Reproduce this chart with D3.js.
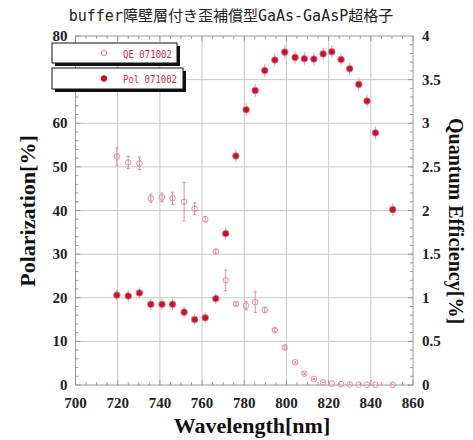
<!DOCTYPE html>
<html lang="en">
<head>
<meta charset="UTF-8">
<title>buffer GaAs-GaAsP</title>
<style>
  body { margin: 0; padding: 0; background: #fff; }
  svg { display: block; }
</style>
</head>
<body>
<svg width="473" height="440"></svg>
<script src="https://d3js.org/d3.v7.min.js"></script>
<script>
// wavelengths (nm), shared by both series
const wavelength = [719.6, 725, 730.3, 735.7, 741, 746, 751.5, 756.5, 761.5, 766.5, 771.2, 776,
  780.9, 785.2, 789.7, 794.5, 799.2, 804.1, 808.5, 813, 817.4, 821.5, 825.9, 830, 834.3, 838.2, 842.2, 850.4];
// polarization [%]
const pol = [20.6, 20.4, 21.1, 18.5, 18.5, 18.5, 16.7, 15.0, 15.4, 19.8, 34.7, 52.5,
  63.1, 67.5, 72.1, 74.5, 76.3, 75.1, 74.8, 74.7, 75.9, 76.4, 74.6, 72.5, 68.9, 65.1, 57.8, 40.2];
const polErr = [0.6, 0.6, 0.6, 0.6, 0.6, 0.6, 0.6, 0.6, 0.6, 0.6, 0.8, 0.8,
  0.8, 0.8, 0.8, 0.8, 0.8, 0.8, 0.8, 0.8, 0.8, 0.8, 0.8, 0.8, 0.8, 0.8, 0.8, 0.8];
// quantum efficiency [%]
const qe = [2.62, 2.55, 2.54, 2.14, 2.15, 2.14, 2.1, 2.02, 1.9, 1.53, 1.2, 0.93,
  0.91, 0.95, 0.86, 0.63, 0.43, 0.26, 0.13, 0.07, 0.03, 0.015, 0.01, 0.006, 0.005, 0.004, 0.003, 0.002];
const qeErr = [0.1, 0.07, 0.07, 0.05, 0.05, 0.07, 0.22, 0.07, 0.03, 0.02, 0.12, 0.02,
  0.05, 0.12, 0.03, 0.02, 0.02, 0.01, 0.01, 0.005, 0.003, 0, 0, 0, 0, 0, 0, 0];

const xTicks = [700, 720, 740, 760, 780, 800, 820, 840, 860];
const yTicks = [0, 10, 20, 30, 40, 50, 60, 70, 80];
const y2Ticks = [0, 0.5, 1, 1.5, 2, 2.5, 3, 3.5, 4];

const svg = d3.select("svg");
const mL = 75.5, mR = 413, mT = 36, mB = 385;

const x = d3.scaleLinear().domain([700, 860]).range([mL, mR]);
const y = d3.scaleLinear().domain([0, 80]).range([mB, mT]);
const y2 = d3.scaleLinear().domain([0, 4]).range([mB, mT]);

const polColor = "#c4122f";
const qeColor = "#e8899a";
const serif = "'Liberation Serif', 'Times New Roman', serif";

// grid
const grid = svg.append("g").attr("stroke", "#c8c8c8").attr("stroke-width", 1);
grid.selectAll(".gx").data(xTicks.slice(1, -1)).enter().append("line")
  .attr("x1", d => x(d)).attr("x2", d => x(d)).attr("y1", mT).attr("y2", mB);
grid.selectAll(".gy").data(yTicks.slice(1, -1)).enter().append("line")
  .attr("y1", d => y(d)).attr("y2", d => y(d)).attr("x1", mL).attr("x2", mR);

// frame
svg.append("rect").attr("x", mL).attr("y", mT)
  .attr("width", mR - mL).attr("height", mB - mT)
  .attr("fill", "none").attr("stroke", "#999").attr("stroke-width", 1);

// minor / major ticks, inward on all sides
const tk = svg.append("g").attr("stroke", "#888").attr("stroke-width", 0.8);
d3.range(700, 861, 5).forEach(v => {
  const len = v % 20 === 0 ? 5 : 3;
  tk.append("line").attr("x1", x(v)).attr("x2", x(v)).attr("y1", mB).attr("y2", mB - len);
  tk.append("line").attr("x1", x(v)).attr("x2", x(v)).attr("y1", mT).attr("y2", mT + len);
});
d3.range(0, 81, 2).forEach(v => {
  const len = v % 10 === 0 ? 5 : 3;
  tk.append("line").attr("y1", y(v)).attr("y2", y(v)).attr("x1", mL).attr("x2", mL + len);
});
d3.range(0, 40).forEach(i => {
  const v = i / 10;
  const len = i % 5 === 0 ? 5 : 3;
  tk.append("line").attr("y1", y2(v)).attr("y2", y2(v)).attr("x1", mR).attr("x2", mR - len);
});

// tick labels
const lab = svg.append("g").attr("font-family", serif).attr("font-weight", "bold")
  .attr("font-size", 15).attr("fill", "#222");
lab.selectAll(".xl").data(xTicks).enter().append("text")
  .attr("x", d => x(d)).attr("y", mB + 23).attr("text-anchor", "middle").text(d => d);
lab.selectAll(".yl").data(yTicks).enter().append("text")
  .attr("x", mL - 8).attr("y", d => y(d) + 5).attr("text-anchor", "end").text(d => d);
lab.selectAll(".y2l").data(y2Ticks).enter().append("text")
  .attr("x", mR + 9).attr("y", d => y2(d) + 5).attr("text-anchor", "start").text(d => d);

// axis titles
const ttl = svg.append("g").attr("font-family", serif).attr("font-weight", "bold").attr("fill", "#111");
ttl.append("text").attr("x", 252).attr("y", 433).attr("font-size", 22)
  .attr("text-anchor", "middle").text("Wavelength[nm]");
ttl.append("text").attr("transform", "translate(35,211) rotate(-90)").attr("font-size", 22)
  .attr("text-anchor", "middle").text("Polarization[%]");
ttl.append("text").attr("transform", "translate(449,221) rotate(90)").attr("font-size", 20)
  .attr("text-anchor", "middle").text("Quantum Efficiency[%]");

svg.append("text").attr("x", 231).attr("y", 21).attr("text-anchor", "middle")
  .attr("font-family", "'DejaVu Sans Mono', 'Noto Sans CJK JP', monospace")
  .attr("font-size", 15).attr("fill", "#222")
  .text("buffer障壁層付き歪補償型GaAs-GaAsP超格子");

// QE data
const qeData = wavelength.map((w, i) => ({ w: w, v: qe[i], e: qeErr[i] }));
const qeG = svg.append("g");
qeG.selectAll(".qe-err").data(qeData.filter(d => d.e > 0)).enter().append("line")
  .attr("x1", d => x(d.w)).attr("x2", d => x(d.w))
  .attr("y1", d => y2(d.v - d.e)).attr("y2", d => y2(d.v + d.e))
  .attr("stroke", qeColor).attr("stroke-width", 1);
qeG.selectAll(".qe-cap").data(qeData.filter(d => d.e > 0).flatMap(d => [d.v - d.e, d.v + d.e].map(v => ({ w: d.w, v: v }))))
  .enter().append("line")
  .attr("x1", d => x(d.w) - 1.5).attr("x2", d => x(d.w) + 1.5)
  .attr("y1", d => y2(d.v)).attr("y2", d => y2(d.v))
  .attr("stroke", qeColor).attr("stroke-width", 1);
qeG.selectAll("circle").data(qeData).enter().append("circle")
  .attr("cx", d => x(d.w)).attr("cy", d => y2(d.v)).attr("r", 2.8)
  .attr("fill", "none").attr("stroke", qeColor).attr("stroke-width", 1);

// Pol data
const polData = wavelength.map((w, i) => ({ w: w, v: pol[i], e: polErr[i] }));
const polG = svg.append("g");
polG.selectAll("line").data(polData).enter().append("line")
  .attr("x1", d => x(d.w)).attr("x2", d => x(d.w))
  .attr("y1", d => y(d.v - d.e) + 3).attr("y2", d => y(d.v + d.e) - 3)
  .attr("stroke", "#e79aa5").attr("stroke-width", 1);
polG.selectAll("circle").data(polData).enter().append("circle")
  .attr("cx", d => x(d.w)).attr("cy", d => y(d.v)).attr("r", 3.3)
  .attr("fill", polColor).attr("stroke", "#e07a8a").attr("stroke-width", 0.8);

// legend (drawn last, on top)
const legend = [
  { label: "QE 071002", open: true, x0: 52, y0: 43, w: 125, h: 20 },
  { label: "Pol 071002", open: false, x0: 52, y0: 68, w: 131, h: 21 }
];
const lg = svg.append("g");
legend.forEach(d => {
  lg.append("rect").attr("x", d.x0 + 3).attr("y", d.y0 + 3).attr("width", d.w).attr("height", d.h)
    .attr("fill", "#111");
  lg.append("rect").attr("x", d.x0).attr("y", d.y0).attr("width", d.w).attr("height", d.h)
    .attr("fill", "#fff").attr("stroke", "#111").attr("stroke-width", 1);
  lg.append("circle").attr("cx", d.x0 + 52).attr("cy", d.y0 + d.h / 2).attr("r", d.open ? 2.6 : 2.8)
    .attr("fill", d.open ? "none" : polColor).attr("stroke", d.open ? qeColor : polColor);
  lg.append("text").attr("x", d.x0 + 71).attr("y", d.y0 + d.h / 2 + 4.5)
    .attr("font-family", "'DejaVu Sans Mono', monospace").attr("font-size", 11)
    .attr("textLength", d.open ? 49 : 54).attr("lengthAdjust", "spacingAndGlyphs")
    .attr("fill", "#d02a40").text(d.label);
});
</script>
</body>
</html>
